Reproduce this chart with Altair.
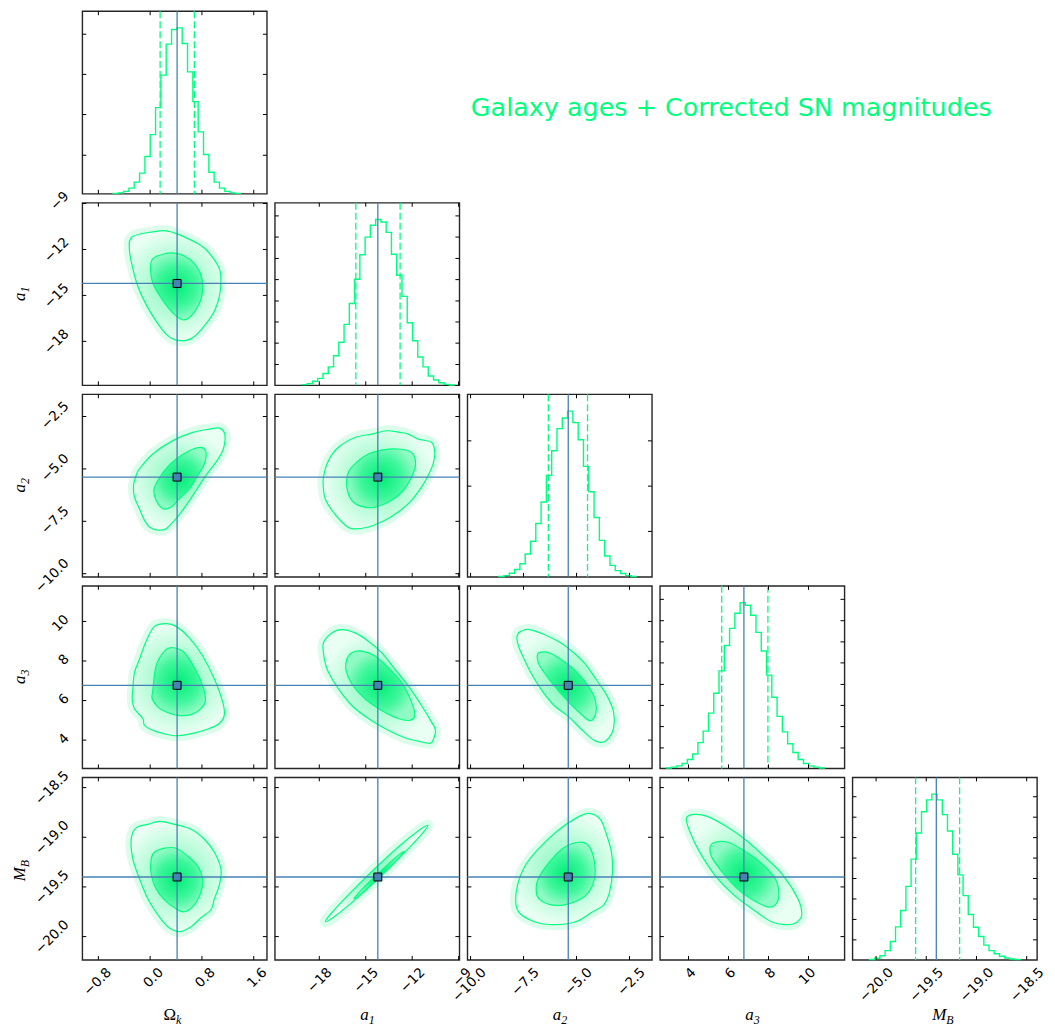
import altair as alt
import pandas as pd

# ---------------- parameters / axes ----------------
PARAMS = ["omk", "a1", "a2", "a3", "mb"]
TITLE_MAIN = {"omk": "Ω", "a1": "a", "a2": "a", "a3": "a", "mb": "M"}
TITLE_SUB = {"omk": "k", "a1": "1", "a2": "2", "a3": "3", "mb": "B"}
RANGES = {"omk": [-1.048, 1.803], "a1": [-20.87, -8.95], "a2": [-10.15, -1.44],
          "a3": [2.57, 11.8], "mb": [-20.235, -18.397]}
TICK_VALUES = {"omk": [-0.8, 0.0, 0.8, 1.6], "a1": [-18, -15, -12, -9],
               "a2": [-10.0, -7.5, -5.0, -2.5], "a3": [4, 6, 8, 10],
               "mb": [-20.0, -19.5, -19.0, -18.5]}
TICK_FORMAT = {"omk": ".1f", "a1": "d", "a2": ".1f", "a3": "d", "mb": ".1f"}
TRUTH = {"omk": 0.416, "a1": -14.22, "a2": -5.39, "a3": 6.77, "mb": -19.40}

# ---------------- 1D histograms (bin start, bin width, heights as fraction of panel) ----------------
HIST_START = {"omk": -0.575, "a1": -19.12, "a2": -8.672, "a3": 2.885, "mb": -20.065}
HIST_WIDTH = {"omk": 0.0823, "a1": 0.340, "a2": 0.25, "a3": 0.264, "mb": 0.05175}
HIST_OMK = [0.002, 0.005, 0.013, 0.031, 0.064, 0.113, 0.204, 0.324, 0.472, 0.650, 0.820, 0.900,
            0.909, 0.823, 0.668, 0.505, 0.339, 0.215, 0.118, 0.064, 0.031, 0.013, 0.005, 0.002]
HIST_A1 = [0.004, 0.009, 0.022, 0.038, 0.065, 0.101, 0.162, 0.236, 0.334, 0.448, 0.581, 0.715,
           0.812, 0.877, 0.908, 0.895, 0.838, 0.718, 0.603, 0.487, 0.343, 0.244, 0.155, 0.101,
           0.051, 0.029, 0.014, 0.005, 0.002]
HIST_A2 = [0.002, 0.007, 0.020, 0.040, 0.072, 0.125, 0.195, 0.292, 0.410, 0.556, 0.691, 0.812,
           0.870, 0.908, 0.845, 0.751, 0.605, 0.466, 0.325, 0.200, 0.114, 0.063, 0.034, 0.018,
           0.007, 0.002]
HIST_A3 = [0.002, 0.007, 0.014, 0.027, 0.049, 0.079, 0.141, 0.204, 0.303, 0.412, 0.534, 0.673,
           0.767, 0.850, 0.908, 0.894, 0.839, 0.745, 0.643, 0.511, 0.390, 0.285, 0.200, 0.135,
           0.087, 0.049, 0.027, 0.014, 0.007, 0.002]
HIST_MB = [0.002, 0.009, 0.023, 0.051, 0.101, 0.181, 0.271, 0.403, 0.552, 0.695, 0.812, 0.877,
           0.908, 0.877, 0.796, 0.706, 0.579, 0.466, 0.352, 0.249, 0.179, 0.128, 0.081, 0.051,
           0.034, 0.020, 0.011, 0.005, 0.002]
HISTS = {"omk": HIST_OMK, "a1": HIST_A1, "a2": HIST_A2, "a3": HIST_A3, "mb": HIST_MB}
QUANTILES = {"omk": [0.154, 0.683], "a1": [-15.64, -12.78], "a2": [-6.33, -4.48],
             "a3": [5.66, 7.97], "mb": [-19.606, -19.168]}
HIST_YTICKS = {"omk": [0.211, 0.434, 0.654, 0.874],
               "a1": [0.114, 0.231, 0.347, 0.462, 0.579, 0.695, 0.812, 0.928],
               "a2": [0.249, 0.497, 0.745],
               "a3": [0.112, 0.229, 0.345, 0.460, 0.578, 0.693, 0.809, 0.926],
               "mb": [0.110, 0.222, 0.334, 0.446, 0.558, 0.670, 0.782, 0.894]}

# ---------------- 2D contours (outer ~2 sigma, inner ~1 sigma) ----------------
C_OMK_A1_OUT = [(-0.277, -11.17), (0.067, -10.83), (0.247, -10.78), (0.427, -11.00), (0.786, -11.74),
                (0.940, -12.39), (1.069, -13.25), (1.094, -14.10), (1.069, -15.06), (0.992, -16.03),
                (0.837, -16.99), (0.683, -17.68), (0.555, -17.93), (0.375, -17.89), (0.247, -17.53),
                (0.092, -16.68), (-0.062, -15.60), (-0.190, -14.42), (-0.267, -13.25), (-0.319, -12.07)]
C_OMK_A1_IN = [(0.041, -12.60), (0.221, -12.28), (0.375, -12.24), (0.529, -12.43), (0.673, -12.88),
               (0.771, -13.52), (0.812, -14.31), (0.786, -15.24), (0.694, -16.03), (0.581, -16.52),
               (0.478, -16.56), (0.324, -16.03), (0.170, -15.17), (0.041, -14.21), (0.005, -13.25)]
C_OMK_A2_OUT = [(-0.165, -5.00), (0.041, -4.29), (0.350, -3.65), (0.658, -3.26), (0.914, -3.10),
                (1.068, -3.05), (1.145, -3.26), (1.156, -3.65), (1.121, -4.13), (1.017, -4.68),
                (0.863, -5.31), (0.709, -6.03), (0.555, -6.74), (0.401, -7.37), (0.247, -7.85),
                (0.119, -7.92), (-0.011, -7.77), (-0.088, -7.45), (-0.165, -6.90), (-0.242, -6.34),
                (-0.257, -5.79), (-0.216, -5.31)]
C_OMK_A2_IN = [(0.092, -5.71), (0.221, -5.08), (0.401, -4.53), (0.606, -4.13), (0.786, -3.97),
               (0.863, -4.21), (0.837, -4.76), (0.735, -5.31), (0.606, -5.95), (0.452, -6.42),
               (0.324, -6.82), (0.196, -6.90), (0.092, -6.50), (0.057, -6.03)]
C_A1_A2_OUT = [(-17.73, -5.39), (-17.40, -4.60), (-16.76, -3.97), (-15.69, -3.50), (-14.61, -3.34),
               (-13.65, -3.18), (-12.79, -3.26), (-12.26, -3.34), (-11.62, -3.58), (-10.76, -3.73),
               (-10.54, -4.21), (-10.65, -4.76), (-10.97, -5.31), (-11.40, -5.87), (-12.04, -6.50),
               (-12.90, -7.06), (-13.76, -7.45), (-14.83, -7.77), (-15.90, -7.85), (-16.54, -7.53),
               (-17.19, -6.97), (-17.62, -6.42), (-17.73, -5.95)]
C_A1_A2_IN = [(-16.22, -5.87), (-16.12, -5.16), (-15.58, -4.68), (-14.83, -4.29), (-13.97, -4.10),
              (-12.90, -4.05), (-12.04, -4.21), (-11.78, -4.76), (-12.04, -5.39), (-12.58, -6.03),
              (-13.33, -6.50), (-14.40, -6.82), (-15.26, -6.79), (-15.90, -6.50)]
C_OMK_A3_OUT = [(-0.267, 6.59), (-0.242, 7.42), (-0.165, 8.09), (-0.062, 9.00), (0.067, 9.75),
                (0.247, 9.89), (0.401, 9.75), (0.606, 9.17), (0.812, 8.25), (0.992, 7.09),
                (1.121, 5.92), (1.145, 5.25), (1.068, 4.84), (0.914, 4.59), (0.658, 4.34),
                (0.401, 4.22), (0.196, 4.34), (0.041, 4.50), (-0.088, 4.75), (-0.113, 5.09),
                (-0.242, 5.59), (-0.277, 6.09)]
C_OMK_A3_IN = [(0.041, 6.50), (0.092, 7.75), (0.221, 8.50), (0.350, 8.67), (0.529, 8.42),
               (0.683, 7.67), (0.812, 6.75), (0.853, 6.00), (0.786, 5.59), (0.632, 5.29),
               (0.427, 5.25), (0.247, 5.42), (0.119, 5.67), (0.031, 6.09)]
C_A1_A3_OUT = [(-17.73, 8.92), (-17.19, 9.42), (-16.54, 9.59), (-15.69, 9.42), (-14.83, 9.00),
               (-13.97, 8.42), (-13.12, 7.59), (-12.26, 6.75), (-11.40, 5.75), (-10.76, 4.92),
               (-10.50, 4.50), (-10.65, 4.00), (-10.87, 3.84), (-11.62, 3.95), (-12.47, 4.12),
               (-13.55, 4.50), (-14.83, 5.09), (-15.90, 5.75), (-16.76, 6.59), (-17.40, 7.42),
               (-17.62, 7.92), (-17.73, 8.42)]
C_A1_A3_IN = [(-16.22, 8.09), (-15.90, 8.42), (-15.26, 8.50), (-14.40, 8.25), (-13.55, 7.67),
              (-12.69, 6.92), (-12.04, 5.92), (-11.83, 5.25), (-12.15, 5.00), (-12.90, 5.09),
              (-13.97, 5.50), (-15.05, 6.09), (-15.90, 6.84), (-16.29, 7.59)]
C_A2_A3_OUT = [(-7.78, 9.34), (-7.63, 9.50), (-7.24, 9.59), (-6.53, 9.34), (-5.75, 8.92),
               (-5.13, 8.42), (-4.58, 7.84), (-4.03, 7.00), (-3.56, 6.25), (-3.25, 5.42),
               (-3.25, 4.59), (-3.49, 4.09), (-3.80, 3.89), (-4.19, 4.00), (-4.81, 4.59),
               (-5.44, 5.25), (-6.06, 5.75), (-6.69, 6.59), (-7.16, 7.42), (-7.47, 8.09),
               (-7.71, 8.67), (-7.81, 9.09)]
C_A2_A3_IN = [(-6.84, 8.34), (-6.69, 8.45), (-6.30, 8.42), (-5.75, 8.09), (-5.13, 7.59),
              (-4.58, 6.92), (-4.19, 6.25), (-4.06, 5.59), (-4.19, 5.09), (-4.42, 5.00),
              (-4.89, 5.42), (-5.44, 6.00), (-6.06, 6.75), (-6.53, 7.42), (-6.81, 7.92)]
C_OMK_MB_OUT = [(-0.293, -19.02), (-0.216, -18.905), (-0.036, -18.87), (0.144, -18.84), (0.375, -18.87),
                (0.632, -18.92), (0.837, -19.02), (0.992, -19.15), (1.094, -19.32), (1.069, -19.48),
                (0.992, -19.62), (0.940, -19.73), (0.786, -19.81), (0.632, -19.90), (0.452, -19.95),
                (0.272, -19.90), (0.118, -19.78), (-0.036, -19.62), (-0.164, -19.42), (-0.267, -19.22)]
C_OMK_MB_IN = [(0.015, -19.22), (0.067, -19.15), (0.221, -19.11), (0.401, -19.11), (0.581, -19.19),
               (0.735, -19.29), (0.812, -19.42), (0.786, -19.55), (0.683, -19.68), (0.529, -19.75),
               (0.375, -19.71), (0.221, -19.63), (0.092, -19.52), (0.015, -19.37)]
C_A1_MB_OUT = [(-10.99, -18.88), (-11.34, -18.96), (-12.47, -19.15), (-14.08, -19.40), (-15.77, -19.64),
               (-17.04, -19.80), (-17.60, -19.85), (-17.25, -19.77), (-16.12, -19.58), (-14.51, -19.33),
               (-12.84, -19.09), (-11.55, -18.93)]
C_A1_MB_IN = [(-12.52, -19.14), (-13.24, -19.27), (-14.87, -19.51), (-15.77, -19.62),
              (-15.03, -19.49), (-13.41, -19.25)]
C_A2_MB_OUT = [(-7.87, -19.65), (-7.78, -19.48), (-7.43, -19.29), (-6.81, -19.12), (-5.92, -18.94),
               (-5.04, -18.81), (-4.41, -18.76), (-3.88, -18.82), (-3.62, -18.95), (-3.35, -19.15),
               (-3.30, -19.35), (-3.44, -19.55), (-3.71, -19.68), (-4.32, -19.76), (-5.04, -19.85),
               (-6.10, -19.88), (-6.99, -19.85), (-7.70, -19.76)]
C_A2_MB_IN = [(-6.90, -19.55), (-6.81, -19.42), (-6.28, -19.25), (-5.57, -19.10), (-4.86, -19.05),
              (-4.41, -19.09), (-4.15, -19.25), (-4.15, -19.42), (-4.41, -19.55), (-4.86, -19.63),
              (-5.57, -19.68), (-6.19, -19.68), (-6.72, -19.63)]
C_A3_MB_OUT = [(3.89, -18.81), (4.27, -18.77), (4.93, -18.79), (5.88, -18.89), (6.82, -19.02),
               (7.77, -19.19), (8.72, -19.38), (9.47, -19.62), (9.66, -19.78), (9.38, -19.86),
               (8.90, -19.88), (8.15, -19.85), (7.39, -19.75), (6.26, -19.58), (5.31, -19.38),
               (4.56, -19.15), (4.08, -18.95)]
C_A3_MB_IN = [(5.08, -19.10), (5.31, -19.05), (5.97, -19.05), (6.82, -19.14), (7.58, -19.25),
              (8.34, -19.42), (8.52, -19.58), (8.34, -19.68), (7.96, -19.70), (7.20, -19.63),
              (6.45, -19.52), (5.69, -19.35), (5.16, -19.20)]

CONTOURS = {
    (1, 0): (C_OMK_A1_OUT, C_OMK_A1_IN),
    (2, 0): (C_OMK_A2_OUT, C_OMK_A2_IN),
    (2, 1): (C_A1_A2_OUT, C_A1_A2_IN),
    (3, 0): (C_OMK_A3_OUT, C_OMK_A3_IN),
    (3, 1): (C_A1_A3_OUT, C_A1_A3_IN),
    (3, 2): (C_A2_A3_OUT, C_A2_A3_IN),
    (4, 0): (C_OMK_MB_OUT, C_OMK_MB_IN),
    (4, 1): (C_A1_MB_OUT, C_A1_MB_IN),
    (4, 2): (C_A2_MB_OUT, C_A2_MB_IN),
    (4, 3): (C_A3_MB_OUT, C_A3_MB_IN),
}

FIG_TITLE = "Galaxy ages + Corrected SN magnitudes"

# ---------------- styling ----------------
GREEN = "#00ff7f"
BLUE = "#4682b4"
FRAME = "#262626"
W, H = 185, 183
TK = 4
LFS = 13.5
LAB_OFF = {"omk": 10.5, "a1": 10, "a2": 13, "a3": 4.6, "mb": 14.6}
OUTER_FILL = {"gradient": "radial", "x1": 0.5, "y1": 0.5, "r1": 0, "x2": 0.5, "y2": 0.5, "r2": 0.5,
              "stops": [{"offset": 0, "color": "#80f9bb"}, {"offset": 0.55, "color": "#b8fcd9"},
                        {"offset": 1, "color": "#eafff3"}]}
INNER_FILL = {"gradient": "radial", "x1": 0.5, "y1": 0.5, "r1": 0, "x2": 0.5, "y2": 0.5, "r2": 0.5,
              "stops": [{"offset": 0, "color": "#00ee77"}, {"offset": 0.6, "color": "#3ff79c"},
                        {"offset": 1, "color": "#90fac4"}]}
HALO = "#dcfdeb"


def sc(p):
    return alt.Scale(domain=RANGES[p], nice=False, zero=False)


def xaxis(p):
    return alt.Axis(values=TICK_VALUES[p], format=TICK_FORMAT[p], labelAngle=315, labelAlign="right",
                    labelBaseline="middle", labelPadding=10, labelOffset=LAB_OFF[p], ticks=False,
                    domain=False, grid=False, labelFont="DejaVu Sans", labelFontSize=LFS,
                    labelColor="black", labelOverlap=False, labelFlush=False, title=None)


def yaxis(p):
    return alt.Axis(values=TICK_VALUES[p], format=TICK_FORMAT[p], labelAngle=315, labelAlign="right",
                    labelBaseline="middle", labelPadding=16, labelOffset=-LAB_OFF[p], ticks=False,
                    domain=False, grid=False, labelFont="DejaVu Sans", labelFontSize=LFS,
                    labelColor="black", labelOverlap=False, labelFlush=False, title=None)


def one_row():
    return pd.DataFrame({"z": [0]})


def title_layers(p, vertical):
    main_style = "normal" if p == "omk" else "italic"
    if vertical:
        pos = dict(x=alt.value(-62), y=alt.value(H / 2))
        ang = 270
    else:
        pos = dict(x=alt.value(W / 2), y=alt.value(H + 55))
        ang = 0
    m = alt.Chart(one_row()).mark_text(text=TITLE_MAIN[p], font="Liberation Serif", fontStyle=main_style,
                                       fontSize=17, angle=ang, align="right", baseline="middle",
                                       dx=1.5, color="black").encode(**pos)
    s = alt.Chart(one_row()).mark_text(text=TITLE_SUB[p], font="Liberation Serif", fontStyle="italic",
                                       fontSize=12, angle=ang, align="left", baseline="middle",
                                       dx=1.5, dy=5, color="black").encode(**pos)
    return [m, s]


def tick_layers(Xf, Yf, xvals, yvals):
    dx = pd.DataFrame({"t": xvals})
    dy = pd.DataFrame({"t": yvals})
    out = []
    out.append(alt.Chart(dx).mark_rule(color="black", strokeWidth=1).encode(
        x=Xf("t"), y=alt.value(0), y2=alt.value(TK)))
    out.append(alt.Chart(dx).mark_rule(color="black", strokeWidth=1).encode(
        x=Xf("t"), y=alt.value(H), y2=alt.value(H - TK)))
    out.append(alt.Chart(dy).mark_rule(color="black", strokeWidth=1).encode(
        y=Yf("t"), x=alt.value(0), x2=alt.value(TK)))
    out.append(alt.Chart(dy).mark_rule(color="black", strokeWidth=1).encode(
        y=Yf("t"), x=alt.value(W), x2=alt.value(W - TK)))
    return out


def inside(p):
    lo, hi = RANGES[p]
    return [v for v in TICK_VALUES[p] if lo <= v <= hi]


def poly_df(pts):
    return pd.DataFrame({"x": [q[0] for q in pts], "y": [q[1] for q in pts],
                         "i": list(range(len(pts)))})


def panel2d(r, c):
    px, py = PARAMS[c], PARAMS[r]
    showx, showy = (r == 4), (c == 0)

    def Xf(f):
        return alt.X(f"{f}:Q", scale=sc(px), axis=xaxis(px) if showx else None)

    def Yf(f):
        return alt.Y(f"{f}:Q", scale=sc(py), axis=yaxis(py) if showy else None)

    outer, inner = CONTOURS[(r, c)]
    layers = [
        alt.Chart(poly_df(outer)).mark_line(interpolate="cardinal-closed", stroke=HALO, strokeWidth=11,
                                            strokeJoin="round").encode(x=Xf("x"), y=Yf("y"), order="i:Q"),
        alt.Chart(poly_df(outer)).mark_line(interpolate="cardinal-closed", stroke=GREEN, strokeWidth=1.2,
                                            fill=OUTER_FILL).encode(x=Xf("x"), y=Yf("y"), order="i:Q"),
        alt.Chart(poly_df(inner)).mark_line(interpolate="cardinal-closed", stroke=GREEN, strokeWidth=1.2,
                                            fill=INNER_FILL).encode(x=Xf("x"), y=Yf("y"), order="i:Q"),
    ]
    tr = pd.DataFrame({"vx": [TRUTH[px]], "vy": [TRUTH[py]]})
    layers.append(alt.Chart(tr).mark_rule(color=BLUE, strokeWidth=1.3).encode(x=Xf("vx")))
    layers.append(alt.Chart(tr).mark_rule(color=BLUE, strokeWidth=1.3).encode(y=Yf("vy")))
    layers.append(alt.Chart(tr).mark_point(shape="square", filled=True, fill=BLUE, stroke="black",
                                           strokeWidth=1, size=64, opacity=1).encode(x=Xf("vx"), y=Yf("vy")))
    layers += tick_layers(Xf, Yf, inside(px), inside(py))
    if showy:
        layers += title_layers(py, True)
    if showx:
        layers += title_layers(px, False)
    return alt.layer(*layers).properties(width=W, height=H)


def panel_hist(k):
    p = PARAMS[k]
    showx = (k == 4)

    def Xf(f):
        return alt.X(f"{f}:Q", scale=sc(p), axis=xaxis(p) if showx else None)

    def Yf(f):
        return alt.Y(f"{f}:Q", scale=alt.Scale(domain=[0, 1], nice=False, zero=False), axis=None)

    h = HISTS[p]
    s, w = HIST_START[p], HIST_WIDTH[p]
    xs = [s] + [s + j * w for j in range(len(h))] + [s + len(h) * w]
    ys = [0.0] + list(h) + [0.0]
    step = pd.DataFrame({"x": xs, "y": ys, "i": list(range(len(xs)))})
    layers = [
        alt.Chart(step).mark_line(interpolate="step-after", color=GREEN, strokeWidth=1.4).encode(
            x=Xf("x"), y=Yf("y"), order="i:Q"),
        alt.Chart(pd.DataFrame({"q": QUANTILES[p]})).mark_rule(color=GREEN, strokeWidth=1.3,
                                                               strokeDash=[7, 3]).encode(x=Xf("q")),
        alt.Chart(pd.DataFrame({"v": [TRUTH[p]]})).mark_rule(color=BLUE, strokeWidth=1.3).encode(x=Xf("v")),
    ]
    layers += tick_layers(Xf, Yf, inside(p), HIST_YTICKS[p])
    if showx:
        layers += title_layers(p, False)
    return alt.layer(*layers).properties(width=W, height=H)


def blank(with_title=False):
    base = alt.Chart(one_row())
    if with_title:
        ch = base.mark_text(text=FIG_TITLE, font="DejaVu Sans", fontSize=25.5, color=GREEN,
                            align="center", baseline="middle").encode(x=alt.value(264.5), y=alt.value(97))
    else:
        ch = base.mark_point(opacity=0, size=1).encode(x=alt.value(W / 2), y=alt.value(H / 2))
    return ch.properties(width=W, height=H, view=alt.ViewBackground(stroke="transparent"))


cells = []
for r in range(5):
    for c in range(5):
        if c == r:
            cells.append(panel_hist(r))
        elif c < r:
            cells.append(panel2d(r, c))
        else:
            cells.append(blank(with_title=(r == 0 and c == 2)))

chart = alt.concat(*cells, columns=5, spacing={"row": 9, "column": 8}, bounds="flush").configure_view(
    stroke=FRAME, strokeWidth=1.4
).properties(padding={"left": 2.5, "top": 0, "right": 0, "bottom": 0}, background="white")

chart.save("out.html", embed_options={"renderer": "svg", "actions": False})
